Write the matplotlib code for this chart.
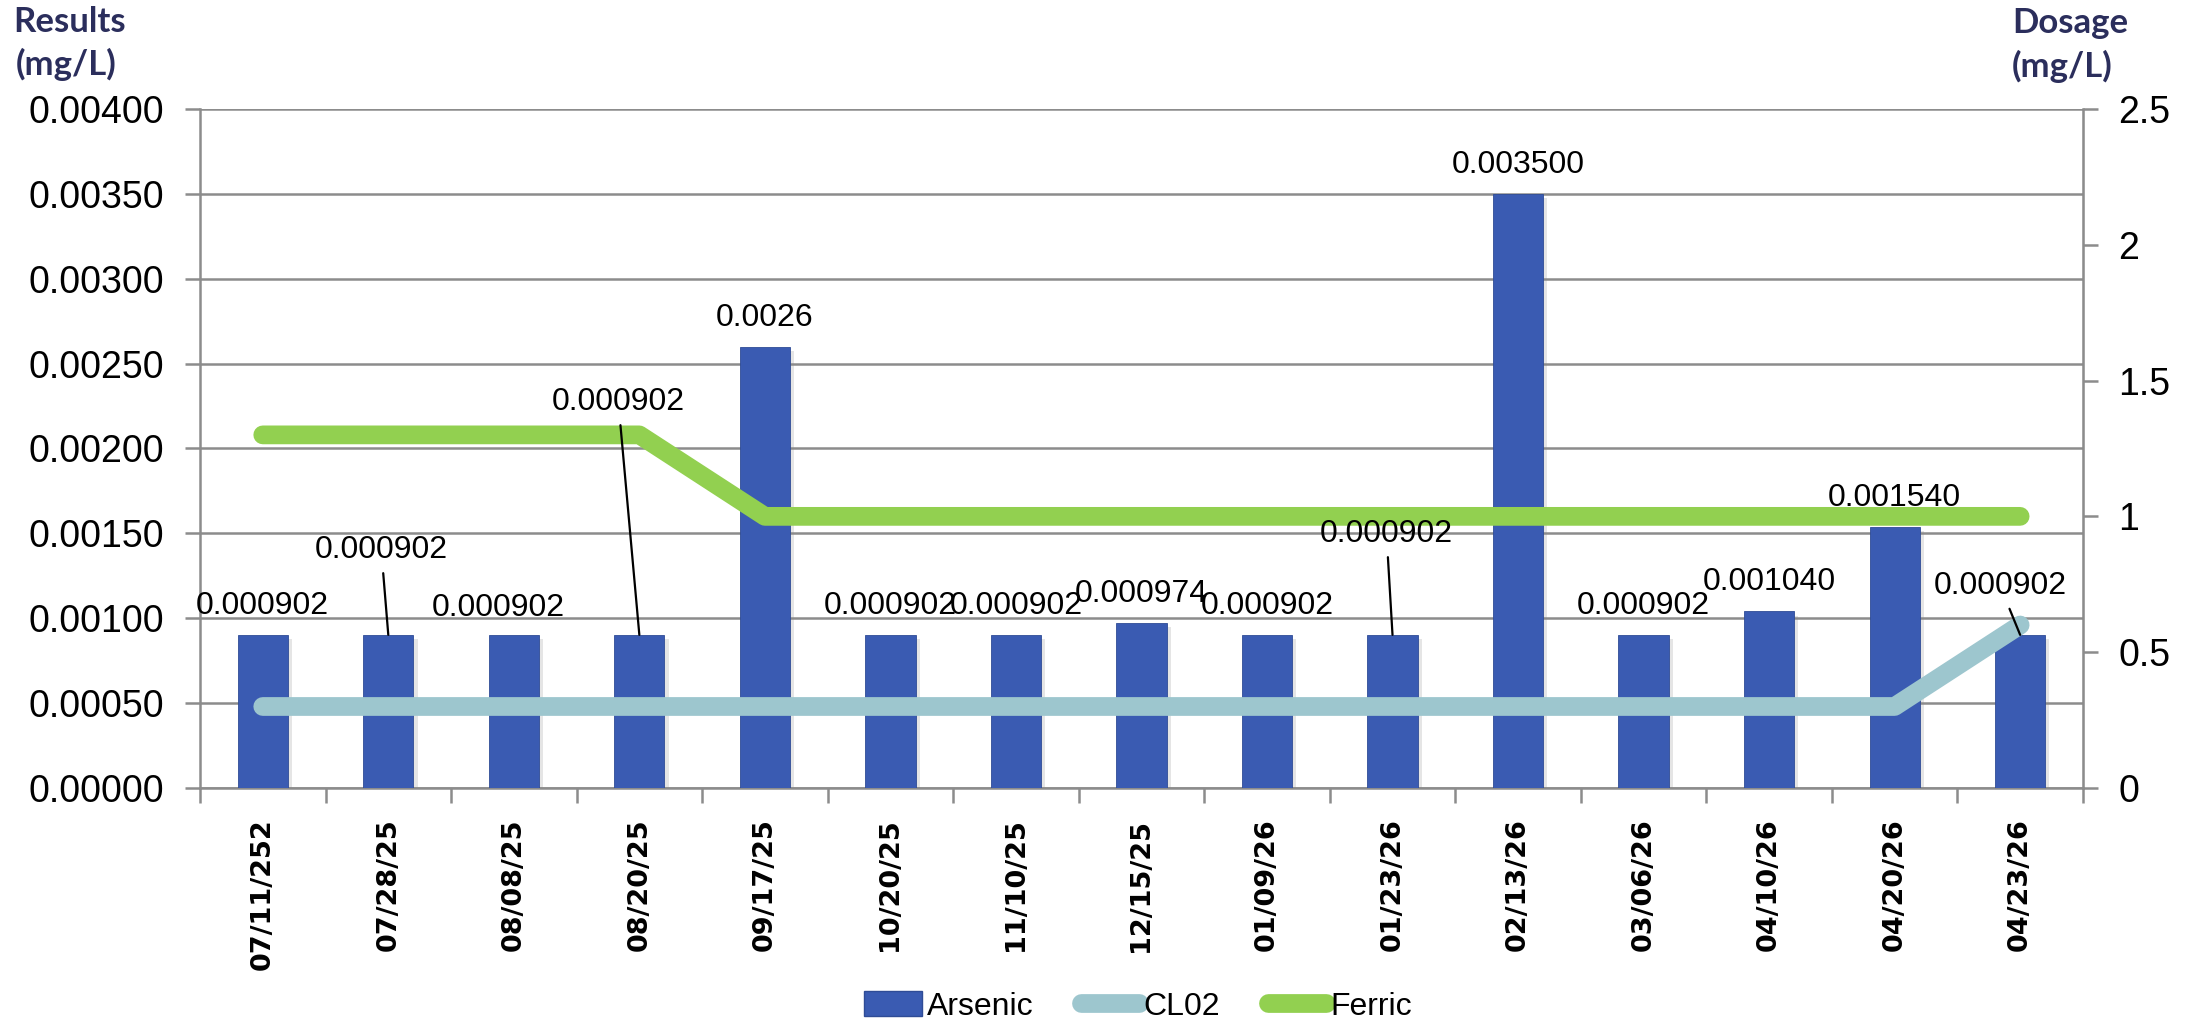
import matplotlib
matplotlib.use("Agg")
import matplotlib.pyplot as plt
import matplotlib.patheffects as pe
from matplotlib.patches import Patch
from matplotlib.lines import Line2D
import numpy as np

# ---- data ----
dates = ["07/11/252", "07/28/25", "08/08/25", "08/20/25", "09/17/25", "10/20/25",
         "11/10/25", "12/15/25", "01/09/26", "01/23/26", "02/13/26", "03/06/26",
         "04/10/26", "04/20/26", "04/23/26"]
arsenic = [0.000902, 0.000902, 0.000902, 0.000902, 0.0026, 0.000902, 0.000902,
           0.000974, 0.000902, 0.000902, 0.0035, 0.000902, 0.00104, 0.00154, 0.000902]
arsenic_labels = ["0.000902", "0.000902", "0.000902", "0.000902", "0.0026", "0.000902",
                  "0.000902", "0.000974", "0.000902", "0.000902", "0.003500", "0.000902",
                  "0.001040", "0.001540", "0.000902"]
clo2 = [0.3, 0.3, 0.3, 0.3, 0.3, 0.3, 0.3, 0.3, 0.3, 0.3, 0.3, 0.3, 0.3, 0.3, 0.6]
ferric = [1.3, 1.3, 1.3, 1.3, 1.0, 1.0, 1.0, 1.0, 1.0, 1.0, 1.0, 1.0, 1.0, 1.0, 1.0]
left_ticks = [0.0, 0.0005, 0.001, 0.0015, 0.002, 0.0025, 0.003, 0.0035, 0.004]
right_ticks = [0, 0.5, 1, 1.5, 2, 2.5]
right_tick_labels = ["0", "0.5", "1", "1.5", "2", "2.5"]

# label offsets (pixels) relative to bar top; None -> default
label_offsets = {1: (-7, 85), 2: (-16, 27), 3: (-21, 233), 9: (-6, 101), 14: (-20, 49)}
leader = {1, 3, 9, 14}

BAR = "#3A5BB2"
CLO2 = "#9DC6CE"
FERRIC = "#92D050"
GRID = "#8C8C8C"
NAVY = "#2B2E5C"

fig = plt.figure(figsize=(21.93, 10.24), dpi=100)
ax = fig.add_axes([0.0912, 0.2305, 0.9498 - 0.0912, 0.8936 - 0.2305])
ax2 = ax.twinx()

x = np.arange(len(dates))
bars = ax.bar(x, arsenic, width=0.40, color=BAR, edgecolor="#2F4C96", linewidth=0.6, zorder=3,
              path_effects=[pe.SimplePatchShadow(offset=(3, -3), shadow_rgbFace="#8a8a8a", alpha=0.22),
                            pe.Normal()])
ax.set_xlim(-0.5, len(dates) - 0.5)
ax.set_ylim(0, 0.004)
ax.set_yticks(left_ticks)
ax.set_yticklabels([f"{v:.5f}" for v in left_ticks], fontsize=27, family="Liberation Sans")
ax.yaxis.grid(True, color=GRID, linewidth=1.8, zorder=0)
ax.set_axisbelow(True)

ax.set_xticks(x)
ax.set_xticklabels(dates, rotation=90, fontsize=19.5, fontweight="bold", family="DejaVu Sans", va="top")
ax.set_xticks(np.arange(-0.5, len(dates), 1.0), minor=True)
ax.tick_params(axis="x", which="major", length=0, pad=22)
ax.tick_params(axis="x", which="minor", length=11, width=1.8, color=GRID, direction="out")
ax.tick_params(axis="y", length=10.5, width=1.8, color=GRID, pad=15, direction="out")

for s in ["top"]:
    ax.spines[s].set_visible(False)
    ax2.spines[s].set_visible(False)
for sp in [ax.spines["left"], ax.spines["bottom"], ax2.spines["right"]]:
    sp.set_color(GRID)
    sp.set_linewidth(1.8)
ax2.spines["left"].set_visible(False)
ax2.spines["bottom"].set_visible(False)

ax2.plot(x, clo2, color=CLO2, linewidth=13.5, solid_capstyle="round", solid_joinstyle="round", zorder=4)
ax2.plot(x, ferric, color=FERRIC, linewidth=13.5, solid_capstyle="round", solid_joinstyle="round", zorder=4)
ax2.set_ylim(0, 2.5)
ax2.set_yticks(right_ticks)
ax2.set_yticklabels(right_tick_labels, fontsize=27, family="Liberation Sans")
ax2.tick_params(axis="y", length=10.5, width=1.8, color=GRID, pad=15, direction="out")

# data labels
for i, (v, lab) in enumerate(zip(arsenic, arsenic_labels)):
    dx, dy = label_offsets.get(i, (0, 29))
    props = None
    if i in leader:
        props = dict(arrowstyle="-", color="black", lw=1.6, shrinkA=4, shrinkB=0)
    ax2.annotate(lab, xy=(i, v), xycoords=ax.transData, xytext=(dx, dy),
                 textcoords="offset pixels", ha="center", va="center",
                 fontsize=23, family="Liberation Sans", color="black",
                 arrowprops=props, zorder=6)

# axis titles
fig.text(13 / 2193, 1 - 32 / 1024, "Results", fontsize=25, fontweight="bold", family="Lato",
         color=NAVY, ha="left", va="baseline")
fig.text(16 / 2193, 1 - 75 / 1024, "(mg/L)", fontsize=25, fontweight="bold", family="Lato",
         color=NAVY, ha="left", va="baseline")
fig.text(2012 / 2193, 1 - 33 / 1024, "Dosage", fontsize=25, fontweight="bold", family="Lato",
         color=NAVY, ha="left", va="baseline")
fig.text(2012 / 2193, 1 - 77 / 1024, "(mg/L)", fontsize=25, fontweight="bold", family="Lato",
         color=NAVY, ha="left", va="baseline")

handles = [Patch(facecolor=BAR, edgecolor="#2F4C96"),
           Line2D([0], [0], color=CLO2, linewidth=13.5, solid_capstyle="round"),
           Line2D([0], [0], color=FERRIC, linewidth=13.5, solid_capstyle="round")]
fig.legend(handles, ["Arsenic", "CL02", "Ferric"], loc="center", bbox_to_anchor=(0.519, 0.017),
           ncol=3, frameon=False, prop={"family": "Liberation Sans", "size": 23},
           handlelength=1.8, handleheight=0.8, handletextpad=0.15, columnspacing=1.5)

fig.savefig("out.png", dpi=100)
